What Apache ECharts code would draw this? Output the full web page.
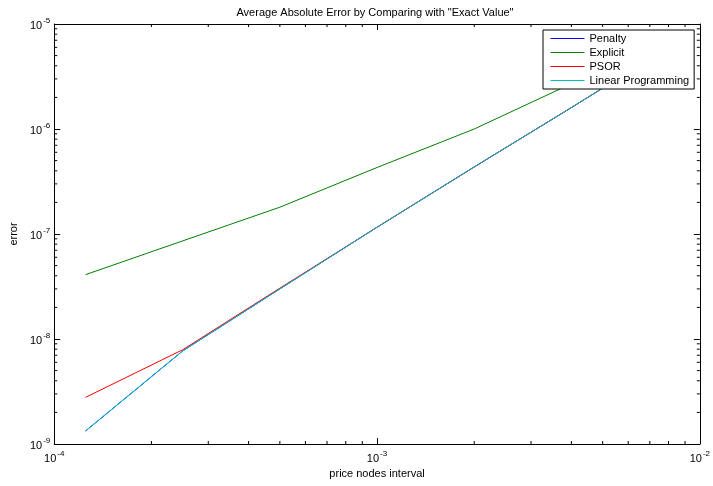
<!DOCTYPE html>
<html>
<head>
<meta charset="utf-8">
<script src="https://cdn.jsdelivr.net/npm/echarts@6/dist/echarts.min.js"></script>
<style>
html,body{margin:0;padding:0;background:#fff;}
#chart{width:713px;height:486px;}
</style>
</head>
<body>
<div id="chart"></div>
<script>
// price nodes interval (x)
var intervals = [1.25e-4, 2.5e-4, 5e-4, 1e-3, 2e-3, 4e-3, 8e-3];
// average absolute error per method
var penalty  = [1.33e-9, 7.7e-9, 3.0e-8, 1.16e-7, 4.35e-7, 1.6e-6, 6.0e-6];
var explicit = [4.1e-8, 8.6e-8, 1.8e-7, 4.3e-7, 1.0e-6, 2.7e-6, 8.0e-6];
var psor     = [2.78e-9, 7.9e-9, 3.05e-8, 1.16e-7, 4.35e-7, 1.6e-6, 6.0e-6];
var linprog  = [1.33e-9, 7.7e-9, 3.0e-8, 1.16e-7, 4.35e-7, 1.6e-6, 6.0e-6];
var seriesNames = ['Penalty', 'Explicit', 'PSOR', 'Linear Programming'];
var xRange = [1e-4, 1e-2];
var yRange = [1e-9, 1e-5];

var FONT = '"Liberation Sans", Arial, Helvetica, sans-serif';

function pairs(ys) { return intervals.map(function (x, i) { return [x, ys[i]]; }); }

// minor ticks (2..9 per decade)
var minorTicks = [];
(function () {
  var d, k;
  for (d = -4; d < -2; d++) for (k = 2; k <= 9; k++) {
    var v = k * Math.pow(10, d);
    minorTicks.push([v, yRange[0], 0]);
    minorTicks.push([v, yRange[1], 1]);
  }
  for (d = -9; d < -5; d++) for (k = 2; k <= 9; k++) {
    var w = k * Math.pow(10, d);
    minorTicks.push([xRange[0], w, 2]);
    minorTicks.push([xRange[1], w, 3]);
  }
})();

function powLabel(v) {
  var e = Math.round(Math.log10(v));
  return '{b|10}{s|' + e + '}';
}
var rich = {
  b: { fontSize: 11, fontFamily: FONT, color: '#000', lineHeight: 13, verticalAlign: 'bottom' },
  s: { fontSize: 8, fontFamily: FONT, color: '#000', padding: [0, 0, 6, 1], verticalAlign: 'bottom' }
};

var lineStyleAxis = { color: '#000', width: 1 };

var chart = echarts.init(document.getElementById('chart'), null, { renderer: 'canvas' });
var colors = ['#0000ff', '#008000', '#ff0000', '#00bfbf'];
var data = [penalty, explicit, psor, linprog];

var series = seriesNames.map(function (n, i) {
  return {
    name: n, type: 'line', data: pairs(data[i]),
    symbol: 'none', showSymbol: false, animation: false,
    lineStyle: { color: colors[i], width: 1 },
    itemStyle: { color: colors[i] },
    z: 2 + i
  };
});
series.push({
  type: 'custom', animation: false, silent: true, z: 1,
  data: minorTicks,
  renderItem: function (params, api) {
    var p = api.coord([api.value(0), api.value(1)]);
    var kind = api.value(2);
    var L = 3, x2 = p[0], y2 = p[1];
    if (kind === 0) y2 = p[1] - L;
    else if (kind === 1) y2 = p[1] + L;
    else if (kind === 2) x2 = p[0] + L;
    else x2 = p[0] - L;
    return { type: 'line', shape: { x1: p[0], y1: p[1], x2: x2, y2: y2 }, style: { stroke: '#000', lineWidth: 1 } };
  }
});

chart.setOption({
  animation: false,
  backgroundColor: '#fff',
  title: {
    text: 'Average Absolute Error by Comparing with "Exact Value"',
    left: 375, top: 7, textAlign: 'center', padding: 0,
    textStyle: { fontSize: 11, fontWeight: 'normal', fontFamily: FONT, color: '#000' }
  },
  legend: {
    data: seriesNames,
    orient: 'vertical', left: 543, top: 30,
    padding: [3, 5, 3, 7],
    itemWidth: 34, itemHeight: 13, itemGap: 3,
    borderColor: '#000', borderWidth: 1, borderRadius: 0,
    backgroundColor: '#fff',
    itemStyle: { opacity: 0, borderWidth: 0 },
    lineStyle: { width: 1 },
    z: 20,
    textStyle: { fontSize: 11, fontFamily: FONT, color: '#000' }
  },
  grid: { left: 50, right: 13, top: 24, bottom: 42, containLabel: false },
  xAxis: [{
    type: 'log', logBase: 10, min: xRange[0], max: xRange[1], position: 'bottom',
    name: 'price nodes interval', nameLocation: 'middle', nameGap: 23,
    nameTextStyle: { fontSize: 11, fontFamily: FONT, color: '#000' },
    axisLine: { show: true, lineStyle: lineStyleAxis },
    axisTick: { show: true, inside: true, length: 6, lineStyle: lineStyleAxis },
    axisLabel: { formatter: powLabel, rich: rich, margin: 6 },
    splitLine: { show: false }
  }, {
    type: 'log', logBase: 10, min: xRange[0], max: xRange[1], position: 'top',
    axisLine: { show: true, lineStyle: lineStyleAxis },
    axisTick: { show: true, inside: true, length: 6, lineStyle: lineStyleAxis },
    axisLabel: { show: false }, splitLine: { show: false }
  }],
  yAxis: [{
    type: 'log', logBase: 10, min: yRange[0], max: yRange[1], position: 'left',
    name: 'error', nameLocation: 'middle', nameGap: 30,
    nameTextStyle: { fontSize: 11, fontFamily: FONT, color: '#000' },
    axisLine: { show: true, lineStyle: lineStyleAxis },
    axisTick: { show: true, inside: true, length: 6, lineStyle: lineStyleAxis },
    axisLabel: { formatter: powLabel, rich: rich, margin: 4 },
    splitLine: { show: false }
  }, {
    type: 'log', logBase: 10, min: yRange[0], max: yRange[1], position: 'right',
    axisLine: { show: true, lineStyle: lineStyleAxis },
    axisTick: { show: true, inside: true, length: 6, lineStyle: lineStyleAxis },
    axisLabel: { show: false }, splitLine: { show: false }
  }],
  series: series
});
</script>
</body>
</html>
